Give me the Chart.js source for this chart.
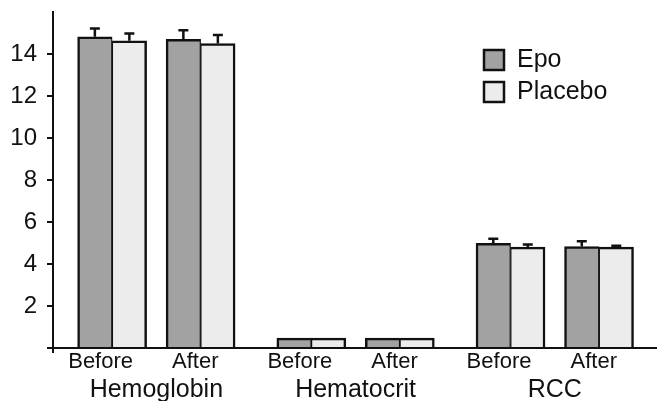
<!DOCTYPE html>
<html><head><meta charset="utf-8">
<script src="https://cdn.jsdelivr.net/npm/chart.js@4.4.1/dist/chart.umd.min.js"></script>
<style>html,body{margin:0;padding:0;background:#fff;}#wrap{width:657px;height:401px;position:relative;}</style>
</head><body><div id="wrap"><canvas id="c"></canvas></div>
<script>
// ---- data ----
const groups = ['Hemoglobin', 'Hematocrit', 'RCC'];
const phases = ['Before', 'After'];
const seriesNames = ['Epo', 'Placebo'];
const epo        = [14.82, 14.70, 0.47, 0.47, 4.99, 4.83];
const epoErr     = [0.40, 0.43, 0, 0, 0.21, 0.25];
const placebo    = [14.63, 14.50, 0.47, 0.47, 4.80, 4.80];
const placeboErr = [0.35, 0.40, 0, 0, 0.13, 0.07];
const yTicks = [2, 4, 6, 8, 10, 12, 14];

// ---- layout (x positions in axis units) ----
const X_MAX = 6.825, FIRST = 0.668, PAIR = 1, GROUP = 2.251;
const pos = i => FIRST + Math.floor(i / 2) * GROUP + (i % 2) * PAIR;
const barX = epo.map((_, i) => pos(i));
const labelX = barX.map((x, i) => x - (i % 2 === 0 ? 0.13 : 0.06));
const groupX = groups.map((_, g) => (pos(2 * g) + pos(2 * g + 1)) / 2);

const FONT = "'Liberation Sans', Arial, sans-serif";
const INK = '#111';

const errorBars = {
  id: 'errorBars',
  afterDatasetsDraw(chart) {
    const ctx = chart.ctx, y = chart.scales.y;
    chart.data.datasets.forEach((ds, di) => {
      const meta = chart.getDatasetMeta(di);
      meta.data.forEach((bar, i) => {
        const e = ds.errors[i];
        if (!e) return;
        const yTop = y.getPixelForValue(ds.data[i].y + e);
        ctx.save();
        ctx.strokeStyle = INK; ctx.lineWidth = 2.5;
        ctx.beginPath();
        ctx.moveTo(bar.x, bar.y); ctx.lineTo(bar.x, yTop);
        ctx.moveTo(bar.x - 5, yTop); ctx.lineTo(bar.x + 5, yTop);
        ctx.stroke();
        ctx.restore();
      });
    });
  }
};

const boxLegend = {
  id: 'boxLegend',
  afterDraw(chart, args, o) {
    const ctx = chart.ctx;
    chart.data.datasets.forEach((ds, i) => {
      const cy = o.y + i * o.rowGap;
      ctx.save();
      ctx.fillStyle = ds.backgroundColor;
      ctx.fillRect(o.x, cy - o.box / 2, o.box, o.box);
      ctx.lineWidth = 2.5; ctx.strokeStyle = INK;
      ctx.strokeRect(o.x, cy - o.box / 2, o.box, o.box);
      ctx.fillStyle = INK;
      ctx.font = o.fontSize + 'px ' + FONT;
      ctx.textBaseline = 'middle'; ctx.textAlign = 'left';
      ctx.fillText(ds.label, o.x + o.box + o.gap, cy);
      ctx.restore();
    });
  }
};

new Chart(document.getElementById('c'), {
  type: 'bar',
  data: {
    datasets: [
      { label: seriesNames[0], xAxisID: 'x', data: epo.map((v, i) => ({ x: barX[i], y: v })), errors: epoErr,
        backgroundColor: '#a2a2a2', borderColor: INK, borderWidth: { top: 2.5, left: 2.5, right: 1.25, bottom: 0 }, barThickness: 34.5 },
      { label: seriesNames[1], xAxisID: 'x', data: placebo.map((v, i) => ({ x: barX[i], y: v })), errors: placeboErr,
        backgroundColor: '#ececec', borderColor: INK, borderWidth: { top: 2.5, left: 1.25, right: 2.5, bottom: 0 }, barThickness: 34.5 }
    ]
  },
  options: {
    responsive: true, maintainAspectRatio: false, animation: false,
    layout: { padding: { left: 0, right: 0, top: 12, bottom: 0 } },
    plugins: {
      legend: { display: false }, tooltip: { enabled: false },
      boxLegend: { x: 484, y: 60, rowGap: 32, box: 20, gap: 13, fontSize: 25 }
    },
    scales: {
      x: {
        type: 'linear', offset: false, position: 'bottom', weight: 0, min: 0, max: X_MAX,
        afterBuildTicks: s => { s.ticks = [{ value: 0 }, ...labelX.map(v => ({ value: v }))]; },
        ticks: { autoSkip: false, maxRotation: 0, padding: -4, color: INK, font: { family: FONT, size: 22 },
                 callback: (v, i) => i === 0 ? '' : phases[(i - 1) % 2] },
        grid: { offset: false, drawOnChartArea: false, drawTicks: true, tickLength: 5, lineWidth: 2,
                color: c => (c.tick && c.tick.value === 0) ? INK : 'rgba(0,0,0,0)' },
        border: { color: INK, width: 2 },
        afterFit: s => { s.height = 26; s.paddingLeft = 0; s.paddingRight = 0; }
      },
      x2: {
        type: 'linear', offset: false, position: 'bottom', weight: 1, min: 0, max: X_MAX,
        afterBuildTicks: s => { s.ticks = groupX.map(v => ({ value: v })); },
        ticks: { autoSkip: false, maxRotation: 0, padding: 0, color: INK, font: { family: FONT, size: 25, lineHeight: 0.66 },
                 callback: (v, i) => groups[i] },
        grid: { display: false },
        border: { display: false },
        afterFit: s => { s.height = 27; s.paddingLeft = 0; s.paddingRight = 0; }
      },
      y: {
        min: 0, max: 16,
        afterBuildTicks: s => { s.ticks = [0, ...yTicks].map(v => ({ value: v })); },
        ticks: { padding: 10, color: INK, font: { family: FONT, size: 24 }, callback: v => v === 0 ? '' : v },
        grid: { drawOnChartArea: false, drawTicks: true, tickLength: 6, lineWidth: 2, color: INK },
        border: { color: INK, width: 2 },
        afterFit: s => { s.width = 53; s.paddingTop = 0; s.paddingBottom = 0; }
      }
    }
  },
  plugins: [errorBars, boxLegend]
});
</script>
</body></html>
